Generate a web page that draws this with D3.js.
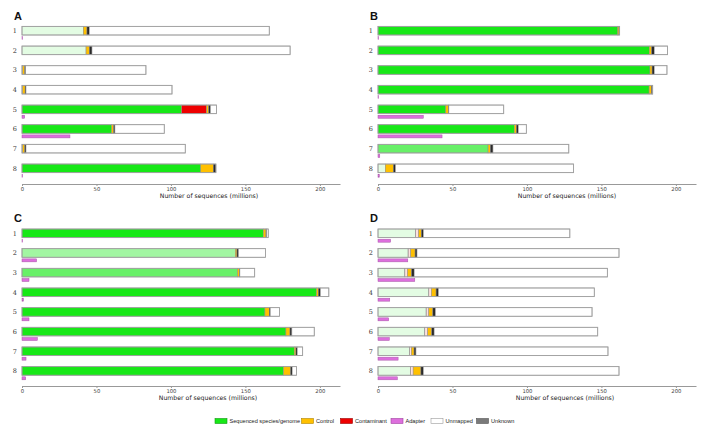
<!DOCTYPE html>
<html><head><meta charset="utf-8">
<script src="https://cdn.jsdelivr.net/npm/d3@7"></script>
<style>
html,body{margin:0;padding:0;background:#fff;}
svg{display:block;font-family:"DejaVu Sans",sans-serif;}
</style></head>
<body>
<svg id="chart" width="707" height="437"></svg>
<script>
// ---------- DATA (millions of sequences) ----------
const rowLabels = ["1","2","3","4","5","6","7","8"];
const panelNames = ["A","B","C","D"];
const tickValues = [0, 50, 100, 150, 200];
const legendLabels = ["Sequenced species/genome","Control","Contaminant","Adapter","Unmapped","Unknown"];

// Panel A
const speciesA     = [41.2, 43.0, 0.3, 0.3, 107.2, 60.2, 0.3, 120.0];
const speciesAlphaA= [0.12, 0.12, 0.12, 0.12, 1, 1, 0.12, 1];
const contaminantA = [0, 0, 0, 0, 16.8, 0, 0, 0];
const controlA     = [2.4, 2.2, 1.6, 1.8, 1.3, 1.3, 1.6, 8.4];
const unknownA     = [1.6, 1.8, 0.6, 0.6, 1.3, 0.9, 0.8, 1.8];
const totalA       = [166, 180, 83.2, 100.7, 130.6, 95.5, 109.6, 130.2];
const adapterA     = [0.3, 0, 0, 0, 1.8, 32.2, 0, 0.3];

// Panel B
const speciesB     = [161.0, 182.1, 182.6, 182.0, 45.5, 91.5, 73.9, 4.9];
const speciesAlphaB= [1, 1, 1, 1, 1, 1, 0.65, 0.12];
const contaminantB = [0, 0, 0, 0, 0, 0, 0, 0];
const controlB     = [0.8, 1.6, 1.4, 1.6, 1.8, 1.4, 1.5, 5.4];
const unknownB     = [0.4, 1.8, 1.5, 0.6, 0.3, 1.3, 1.8, 1.5];
const totalB       = [162.2, 194.4, 194.0, 184.4, 84.4, 99.6, 128.1, 131.3];
const adapterB     = [0.3, 0, 0, 0.3, 30.4, 43.0, 1.2, 0.9];

// Panel C
const speciesC     = [162.0, 143.2, 144.7, 197.8, 163.1, 177.2, 182.8, 175.6];
const speciesAlphaC= [1, 0.4, 0.65, 1, 1, 1, 1, 1];
const contaminantC = [0, 0, 0, 0, 0, 0, 0, 0];
const controlC     = [1.8, 1.1, 1.2, 1.1, 2.9, 2.7, 1.1, 4.7];
const unknownC     = [0.5, 1.1, 0.4, 1.5, 0.7, 1.3, 0.9, 1.1];
const totalC       = [165.3, 163.5, 156.2, 206.0, 172.9, 196.2, 188.4, 184.3];
const adapterC     = [0.3, 9.8, 4.7, 1.0, 4.7, 10.3, 2.7, 2.5];

// Panel D
const speciesD     = [25.1, 20.2, 18.0, 34.1, 32.3, 31.4, 21.1, 21.8];
const speciesAlphaD= [0.12, 0.12, 0.12, 0.12, 0.12, 0.12, 0.12, 0.12];
const contaminantD = [2.2, 1.8, 1.8, 1.8, 1.8, 2.0, 1.3, 1.8];
const controlD     = [1.8, 2.9, 2.7, 3.1, 2.7, 2.7, 1.8, 5.2];
const unknownD     = [1.4, 1.3, 1.8, 1.6, 1.8, 1.6, 1.3, 1.7];
const totalD       = [128.8, 161.8, 154.0, 145.2, 143.7, 147.5, 154.4, 161.8];
const adapterD     = [8.5, 20.0, 24.7, 7.9, 7.2, 7.6, 13.5, 13.0];

// ---------- STYLE / LAYOUT ----------
const GREEN = "#17e817", ORANGE = "#ffc000", RED = "#ee0000", ADAPT = "#dd6fdd",
      UNK = "#2a2a2a", STROKE = "#8c8c8c";
const legendColors = [GREEN, ORANGE, RED, ADAPT, "#ffffff", "#7a7a7a"];
const legendStrokes = ["#119911", "#b08400", "#990000", "#a040a0", "#999999", "#555555"];

const panels = [
  {name:"A", x0:22,  top:30.7,  axisY:184, titleX:209,
   sp:speciesA, al:speciesAlphaA, ct:contaminantA, co:controlA, un:unknownA, tot:totalA, ad:adapterA},
  {name:"B", x0:378, top:30.7,  axisY:184, titleX:567,
   sp:speciesB, al:speciesAlphaB, ct:contaminantB, co:controlB, un:unknownB, tot:totalB, ad:adapterB},
  {name:"C", x0:22,  top:233.3, axisY:386, titleX:208,
   sp:speciesC, al:speciesAlphaC, ct:contaminantC, co:controlC, un:unknownC, tot:totalC, ad:adapterC},
  {name:"D", x0:378, top:233.3, axisY:386, titleX:565,
   sp:speciesD, al:speciesAlphaD, ct:contaminantD, co:controlD, un:unknownD, tot:totalD, ad:adapterD}
];

const svg = d3.select("#chart");
const barH = 8.6, adH = 3;

panels.forEach(p => {
  const x = d3.scaleLinear().domain([0, 213.5]).range([p.x0, p.x0 + 318]);
  const y = d3.scalePoint().domain(rowLabels).range([p.top, p.top + 7 * 19.66]);
  const g = svg.append("g");

  // panel letter
  g.append("text").attr("x", p.x0 - 8).attr("y", p.top - 11)
    .attr("font-family", "Liberation Sans, Arial, sans-serif")
    .attr("font-weight", "bold").attr("font-size", 11).attr("fill", "#111").text(p.name);

  rowLabels.forEach((lab, i) => {
    const cy = y(lab);
    // row label
    g.append("text").attr("x", p.x0 - 5).attr("y", cy + 2.3)
      .attr("text-anchor", "end").attr("font-size", 6.5).attr("fill", "#333")
      .attr("font-family", "DejaVu Serif, serif").text(lab);

    const segs = [];
    let acc = 0;
    const push = (v, fill, op) => { if (v > 0) { segs.push({a: acc, b: acc + v, fill, op}); acc += v; } };
    push(p.sp[i], GREEN, p.al[i]);
    push(p.ct[i], RED, p.al[i]);
    push(p.co[i], ORANGE, 1);
    push(p.un[i], UNK, 1);
    const unm = p.tot[i] - acc;
    if (unm > 0.05) segs.push({a: acc, b: p.tot[i], fill: "#ffffff", op: 1});

    // white underlay so alpha blends with white
    g.append("rect").attr("x", x(0)).attr("y", cy - barH/2)
      .attr("width", x(p.tot[i]) - x(0)).attr("height", barH).attr("fill", "#fff");

    g.selectAll(null).data(segs).enter().append("rect")
      .attr("x", d => x(d.a)).attr("y", cy - barH/2)
      .attr("width", d => Math.max(0.4, x(d.b) - x(d.a))).attr("height", barH)
      .attr("fill", d => d.fill).attr("fill-opacity", d => d.op)
      .attr("stroke", STROKE).attr("stroke-width", 0.5);

    // outline around full bar
    g.append("rect").attr("x", x(0)).attr("y", cy - barH/2)
      .attr("width", x(p.tot[i]) - x(0)).attr("height", barH)
      .attr("fill", "none").attr("stroke", "#a0a0a0").attr("stroke-width", 0.9);

    // adapter
    if (p.ad[i] > 0) {
      g.append("rect").attr("x", x(0)).attr("y", cy + barH/2 + 1.6)
        .attr("width", Math.max(0.6, x(p.ad[i]) - x(0))).attr("height", adH)
        .attr("fill", ADAPT).attr("stroke", "#a85aa8").attr("stroke-width", 0.5);
    }
  });

  // axis
  const ax = g.append("g").attr("transform", `translate(0,${p.axisY})`)
    .call(d3.axisBottom(x).tickValues(tickValues).tickSize(2).tickSizeOuter(0).tickPadding(1.5));
  ax.select(".domain").attr("stroke", "#999").attr("stroke-width", 1);
  ax.selectAll(".tick line").attr("stroke", "#999");
  ax.selectAll(".tick text").attr("font-size", 5.3).attr("fill", "#444").attr("dy", "0.71em")
    .attr("font-family", "DejaVu Sans, sans-serif");

  g.append("text").attr("x", p.titleX).attr("y", p.axisY + 14)
    .attr("text-anchor", "middle").attr("font-size", 6.2).attr("fill", "#222")
    .attr("font-family", "DejaVu Sans, sans-serif")
    .text("Number of sequences (millions)");
});

// legend
const legX = [215, 301.5, 340.5, 391, 431, 476.5];
const lg = svg.append("g");
legendLabels.forEach((lab, i) => {
  lg.append("rect").attr("x", legX[i]).attr("y", 418.5).attr("width", 12).attr("height", 5)
    .attr("fill", legendColors[i]).attr("stroke", legendStrokes[i]).attr("stroke-width", 0.6);
  lg.append("text").attr("x", legX[i] + 14.5).attr("y", 423.2)
    .attr("font-size", 5.6).attr("fill", "#222")
    .attr("font-family", "Liberation Sans, Arial, sans-serif").text(lab);
});
</script>
</body></html>
